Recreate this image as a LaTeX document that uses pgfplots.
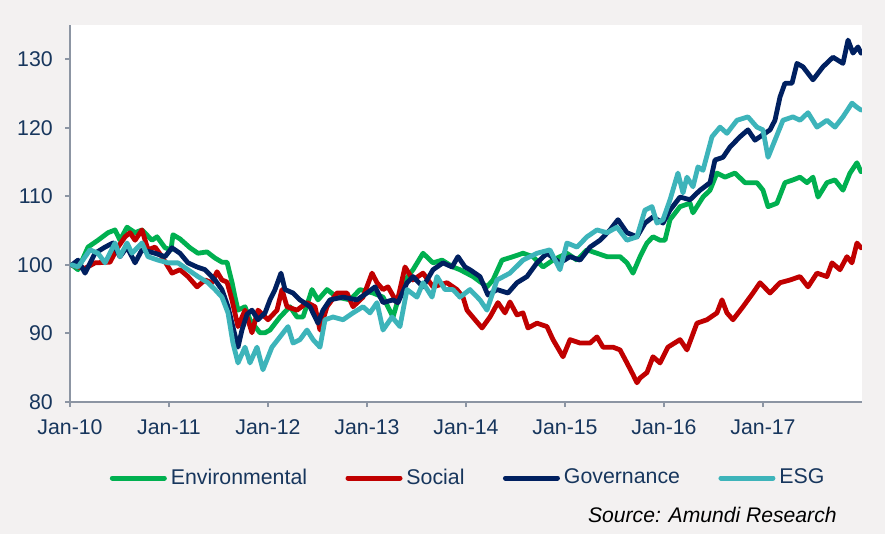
\documentclass[border=0pt]{standalone}
\usepackage{fontspec}
\setmainfont{Liberation Sans}
\usepackage{pgfplots}
\usepackage{pgfplotstable}
\pgfplotsset{compat=1.18}
\definecolor{bggray}{RGB}{243,241,241}
\definecolor{axgray}{RGB}{140,149,163}
\definecolor{lblue}{RGB}{23,54,93}
\definecolor{cenv}{RGB}{0,176,80}
\definecolor{csoc}{RGB}{192,0,0}
\definecolor{cgov}{RGB}{0,32,96}
\definecolor{cesg}{RGB}{61,180,186}

\pgfplotstableread{
t v
0.020 100.0
0.081 99.3
0.182 102.6
0.283 103.6
0.384 104.7
0.455 105.1
0.505 103.6
0.576 105.5
0.657 104.7
0.727 105.1
0.828 103.6
0.879 104.1
0.960 102.5
1.020 102.2
1.040 104.4
1.111 103.8
1.212 102.5
1.293 101.7
1.384 101.9
1.465 101.0
1.535 100.4
1.586 100.4
1.636 97.5
1.667 95.3
1.697 93.4
1.768 93.9
1.818 92.0
1.869 91.0
1.919 90.1
1.970 90.1
2.020 90.5
2.121 92.4
2.222 93.9
2.293 92.4
2.354 92.4
2.444 96.4
2.505 94.9
2.596 96.4
2.697 95.3
2.828 94.9
2.929 96.4
3.061 95.9
3.162 95.3
3.263 92.4
3.364 97.4
3.465 99.3
3.566 101.7
3.667 100.3
3.758 100.7
3.869 99.7
3.939 99.3
4.071 98.3
4.212 96.8
4.273 97.8
4.364 100.7
4.475 101.2
4.576 101.7
4.677 101.2
4.778 99.7
4.879 100.7
5.020 101.7
5.121 100.7
5.222 102.2
5.323 101.7
5.424 101.2
5.556 101.2
5.626 100.3
5.687 98.8
5.758 101.2
5.828 103.2
5.889 104.1
5.960 103.6
6.010 103.6
6.061 106.6
6.162 108.5
6.263 109.0
6.293 107.6
6.394 109.9
6.465 110.9
6.535 113.4
6.616 112.8
6.717 113.4
6.818 112.0
6.939 112.0
7.000 110.9
7.051 108.5
7.141 109.0
7.222 112.0
7.303 112.4
7.374 112.8
7.444 112.0
7.505 112.8
7.556 109.9
7.646 112.0
7.727 112.4
7.808 110.9
7.879 113.4
7.949 114.9
7.990 113.6
}\envdata

\pgfplotstableread{
t v
0.020 100.0
0.081 99.7
0.152 99.5
0.253 100.3
0.404 100.4
0.485 102.6
0.556 104.1
0.606 104.7
0.657 103.6
0.727 105.1
0.788 102.2
0.859 102.6
0.929 101.2
1.030 98.8
1.111 99.3
1.192 98.3
1.283 96.8
1.364 97.8
1.434 97.4
1.485 99.0
1.535 97.8
1.586 97.5
1.636 94.9
1.697 91.0
1.768 93.4
1.838 90.1
1.899 93.4
2.000 92.0
2.091 93.4
2.141 96.4
2.192 93.9
2.293 93.4
2.394 94.5
2.475 93.9
2.525 90.5
2.596 93.9
2.697 95.9
2.798 95.9
2.859 93.9
2.960 95.3
3.051 98.8
3.101 97.4
3.162 96.4
3.212 96.8
3.303 94.5
3.384 99.7
3.465 97.8
3.566 98.8
3.667 96.8
3.808 97.4
3.909 96.4
3.970 95.3
4.010 93.4
4.091 92.0
4.162 90.8
4.242 92.4
4.323 94.5
4.394 93.0
4.444 94.6
4.515 92.7
4.576 93.0
4.626 90.8
4.717 91.5
4.818 91.0
4.879 89.1
4.980 86.6
5.051 89.1
5.152 88.6
5.253 88.6
5.323 89.5
5.384 88.0
5.485 88.0
5.556 87.6
5.626 85.7
5.687 84.0
5.727 82.8
5.758 83.5
5.828 84.3
5.889 86.6
5.960 85.7
6.040 88.0
6.162 89.1
6.232 87.6
6.333 91.5
6.434 92.0
6.535 93.0
6.586 94.9
6.636 93.0
6.697 92.0
6.798 93.9
6.899 95.9
6.970 97.4
7.071 95.9
7.172 97.4
7.273 97.8
7.374 98.3
7.455 96.8
7.545 98.8
7.646 98.3
7.697 100.3
7.778 99.3
7.848 101.2
7.899 100.3
7.949 103.2
7.990 102.5
}\socdata

\pgfplotstableread{
t v
0.020 100.0
0.081 100.7
0.152 98.8
0.253 101.7
0.354 102.6
0.434 103.2
0.505 101.2
0.576 102.6
0.657 100.3
0.727 102.2
0.859 101.7
0.960 101.2
1.030 102.5
1.111 101.7
1.192 100.3
1.283 99.7
1.364 99.3
1.465 97.8
1.535 96.4
1.596 93.9
1.636 91.5
1.697 88.0
1.737 90.5
1.788 92.8
1.838 93.4
1.899 92.0
1.970 93.0
2.020 94.9
2.071 96.4
2.131 98.8
2.172 96.4
2.253 95.9
2.323 94.9
2.424 93.9
2.505 91.5
2.556 93.4
2.626 94.9
2.758 95.3
2.899 94.9
3.000 95.9
3.081 96.8
3.162 94.5
3.263 94.9
3.313 94.5
3.404 97.4
3.465 98.3
3.566 96.8
3.667 99.3
3.768 100.3
3.859 99.7
3.919 101.2
3.990 99.7
4.040 99.3
4.141 98.3
4.222 95.6
4.313 96.4
4.424 95.9
4.515 97.4
4.616 98.3
4.717 100.3
4.818 101.7
4.949 100.3
5.051 101.2
5.152 100.7
5.253 102.6
5.354 103.6
5.455 105.1
5.535 106.6
5.626 104.7
5.727 104.1
5.808 106.1
5.889 107.0
5.990 106.1
6.061 108.0
6.162 109.9
6.263 109.5
6.364 110.9
6.465 112.0
6.515 115.3
6.596 115.7
6.667 117.2
6.768 118.7
6.848 119.7
6.919 118.2
6.970 118.7
7.071 119.7
7.121 121.1
7.172 124.5
7.222 126.5
7.293 126.5
7.343 129.4
7.404 128.9
7.505 127.0
7.606 128.9
7.707 130.3
7.808 129.4
7.859 132.8
7.909 130.9
7.960 131.8
7.990 130.9
}\govdata

\pgfplotstableread{
t v
0.020 100.0
0.081 99.7
0.202 102.2
0.283 101.7
0.354 100.3
0.455 103.2
0.505 101.2
0.576 103.2
0.626 101.7
0.727 103.2
0.788 101.2
0.889 100.7
0.990 100.3
1.091 100.3
1.192 99.3
1.293 98.3
1.394 97.4
1.465 96.4
1.535 95.3
1.596 93.0
1.646 88.6
1.697 85.7
1.768 88.0
1.818 85.7
1.889 88.0
1.949 84.7
2.040 88.0
2.121 89.5
2.202 91.0
2.253 88.6
2.323 89.1
2.394 90.5
2.455 89.1
2.525 88.0
2.576 92.0
2.657 92.4
2.758 92.0
2.859 93.0
2.960 93.9
3.030 93.0
3.101 94.5
3.162 90.5
3.253 92.4
3.333 91.0
3.404 96.4
3.505 95.3
3.566 97.4
3.657 95.3
3.707 98.3
3.788 96.4
3.869 96.4
3.939 95.3
4.040 96.4
4.141 94.9
4.212 93.4
4.313 97.8
4.444 98.8
4.576 100.7
4.717 101.7
4.848 102.2
4.949 99.3
5.020 103.2
5.121 102.6
5.222 104.1
5.323 105.1
5.424 104.7
5.525 105.5
5.626 103.6
5.727 104.1
5.808 108.0
5.879 108.5
5.929 106.1
5.990 106.6
6.061 109.5
6.141 113.4
6.192 110.5
6.232 112.8
6.293 111.4
6.343 114.3
6.394 113.8
6.485 118.7
6.566 120.1
6.636 119.2
6.737 121.1
6.848 121.6
6.939 120.1
7.000 119.7
7.051 115.7
7.121 118.2
7.202 121.1
7.303 121.6
7.374 121.1
7.455 122.2
7.545 120.1
7.646 121.1
7.727 120.1
7.808 121.6
7.899 123.6
7.949 123.0
7.990 122.6
}\esgdata

\begin{document}
\begin{tikzpicture}
\path[use as bounding box, fill=bggray] (-35bp,-66bp) rectangle (407.5bp,201bp);
\begin{axis}[
  at={(0,0)}, anchor=south west,
  scale only axis, width=396bp, height=188.5bp,
  xmin=0, xmax=8, ymin=80, ymax=135,
  axis x line*=bottom, axis y line*=left,
  axis line style={draw=axgray, line width=1.3bp, -},
  xtick={0,1,2,3,4,5,6,7},
  xticklabels={Jan-10,Jan-11,Jan-12,Jan-13,Jan-14,Jan-15,Jan-16,Jan-17},
  ytick={80,90,100,110,120,130},
  tick align=outside, major tick length=2.5bp,
  tick style={draw=axgray, line width=1bp},
  ticklabel style={font=\fontsize{10.7}{12}\selectfont, text=lblue},
  xticklabel style={yshift=-3bp},
  yticklabel style={xshift=-2.6bp},
  /pgf/number format/assume math mode=true,
  axis background/.style={fill=white},
  every axis plot/.append style={line width=2.4bp, line join=round, line cap=round},
  legend columns=4,
  legend style={at={(axis description cs:0.504,-0.2016)}, anchor=center,
    draw=none, fill=none, font=\fontsize{10.7}{12}\selectfont, text=lblue,
    /tikz/every even column/.append style={column sep=17.2bp}},
  legend image code/.code={\draw[line width=2.5bp, line cap=round] (0bp,0bp) -- (26bp,0bp);},
]
\addplot[cenv] table[x=t,y=v] {\envdata};
\addlegendentry{Environmental}
\addplot[csoc] table[x=t,y=v] {\socdata};
\addlegendentry{Social}
\addplot[cgov] table[x=t,y=v] {\govdata};
\addlegendentry{Governance}
\addplot[cesg] table[x=t,y=v] {\esgdata};
\addlegendentry{ESG}
\end{axis}
\node[anchor=east, inner sep=0pt, font=\fontsize{10.6}{12}\selectfont\itshape] at (383.5bp,-56.5bp) {Source: Amundi Research};
\end{tikzpicture}
\end{document}
